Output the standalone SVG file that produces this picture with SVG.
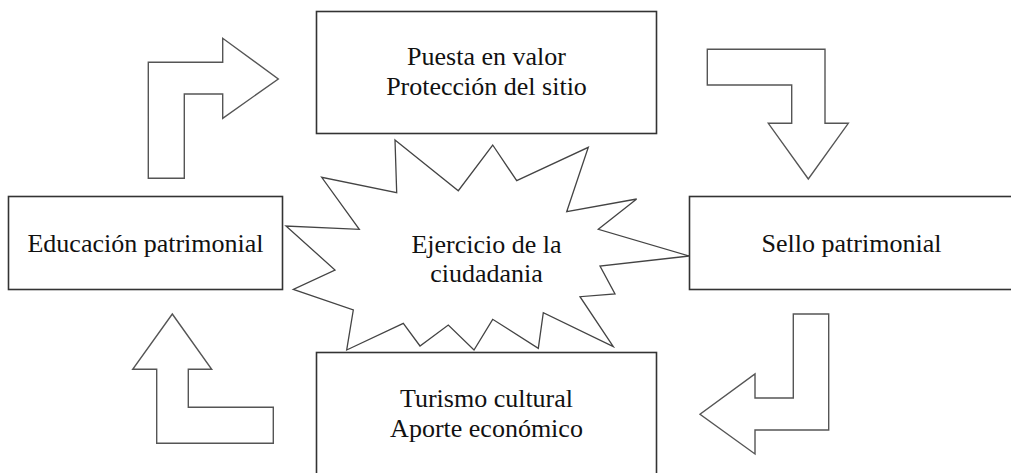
<svg xmlns="http://www.w3.org/2000/svg" width="1011" height="473" viewBox="0 0 1011 473">
<style>
.box{fill:#fff;stroke:#333;stroke-width:1.6}
.arrow{fill:#fff;stroke:#555;stroke-width:1.4;stroke-linejoin:miter}
.burst{fill:#fff;stroke:#444;stroke-width:1.3;stroke-linejoin:miter}
text{font-family:"Liberation Serif","Times New Roman",serif;font-size:26px;fill:#111;text-anchor:middle}
</style>
<rect width="1011" height="473" fill="#fff"/>
<g id="connectors">
<polygon class="arrow" points="148.3,62.3 222.7,62.3 222.7,38.3 278.3,79 222.7,118.3 222.7,94 184.3,94 184.3,178.3 148.3,178.3"/>
<polygon class="arrow" points="707.3,49.3 825,49.3 825,123.3 848.3,123.3 808.3,179 768.3,123.3 791.7,123.3 791.7,85 707.3,85"/>
<polygon class="arrow" points="793.3,314 828.7,314 828.7,430 755,430 755,454 700,414.3 755,374 755,398 793.3,398"/>
<polygon class="arrow" points="172.3,314 211.7,369.3 188.3,369.3 188.3,407.3 273.3,407.3 273.3,443.3 156.7,443.3 156.7,369.3 132.7,369.3"/>
</g>
<g id="node-puesta">
<rect class="box" x="316.5" y="11.5" width="340" height="122"/>
<text x="486.5" y="65">Puesta en valor</text>
<text x="486.5" y="95">Protección del sitio</text>
</g>
<g id="node-educacion">
<rect class="box" x="8.5" y="196.5" width="274" height="93"/>
<text x="145.5" y="252">Educación patrimonial</text>
</g>
<g id="node-sello">
<rect class="box" x="689.5" y="196.5" width="325" height="93"/>
<text x="851.5" y="252">Sello patrimonial</text>
</g>
<g id="node-turismo">
<rect class="box" x="316.5" y="352.5" width="340" height="130"/>
<text x="486.5" y="407">Turismo cultural</text>
<text x="486.5" y="437">Aporte económico</text>
</g>
<g id="node-ciudadania">
<polygon class="burst" points="395,140 458.3,190.7 492.7,145 516.7,180.7 588.3,147.3 566.7,211.7 636.7,199 598.3,229.3 689.3,256 600,266 615,294 580,296.7 613.3,346.7 543.3,312.7 538.3,348.3 492.7,319.3 474,350 448.3,325 420,346 403.3,323.3 346.7,350 353.3,310 293.3,289.3 335,270 286,226 359.3,229.3 321.7,177.3 396.7,192.7"/>
<text x="486.5" y="252.5">Ejercicio de la</text>
<text x="486.5" y="281.5">ciudadania</text>
</g>
</svg>
